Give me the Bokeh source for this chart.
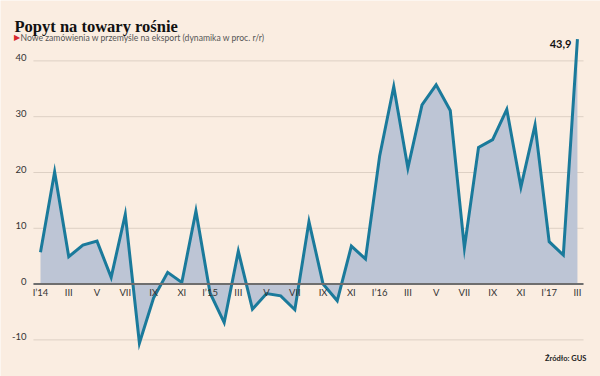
from bokeh.plotting import figure
from bokeh.models import Range1d
from bokeh.core.properties import value
from bokeh.embed import file_html
from bokeh.resources import INLINE

# --- data ---
months = list(range(39))  # I'14 .. III'17
values = [5.7, 20.1, 4.9, 7.0, 7.7, 1.2, 12.5, -10.6, -2.5, 2.1, 0.3, 13.1,
          -1.6, -6.9, 5.9, -4.5, -1.7, -2.1, -4.6, 11.2, 0.0, -3.0, 6.8, 4.5,
          22.9, 35.4, 20.8, 32.1, 35.7, 31.1, 6.5, 24.5, 25.9, 31.3, 17.4, 28.5,
          7.6, 5.2, 43.9]
xtick_pos = list(range(0, 39, 2))
xtick_labels = ["I’14", "III", "V", "VII", "IX", "XI",
                "I’15", "III", "V", "VII", "IX", "XI",
                "I’16", "III", "V", "VII", "IX", "XI",
                "I’17", "III"]
yticks = [-10, 0, 10, 20, 30, 40]
ytick_labels = [str(t) for t in yticks]
last_label = "43,9"
title = "Popyt na towary rośnie"
subtitle = "Nowe zamówienia w przemyśle na eksport (dynamika w proc. r/r)"
source = "Źródło: GUS"

BG = "#FAEDE1"
GRID = "#DDD0C4"
LINE = "#1A7A9B"
FILL = "#BDC5D5"
AXIS = "#6E6E6E"

# plot area (grid) horizontal extent, in month units
GX0, GX1 = -0.5, 38.43

p = figure(width=600, height=376,
           x_range=Range1d(-2.831, 39.632), y_range=Range1d(-16.56, 50.82),
           output_backend="svg", toolbar_location=None,
           x_axis_type=None, y_axis_type=None,
           min_border=0, background_fill_color=BG, border_fill_color=BG,
           outline_line_color=None)
p.xgrid.visible = False
p.ygrid.visible = False

# horizontal grid lines
gy = [t for t in yticks if t != 0]
p.segment(x0=[GX0] * len(gy), x1=[GX1] * len(gy), y0=gy, y1=gy,
          line_color=GRID, line_width=1)

# area + line
p.varea(x=months, y1=[0] * len(values), y2=values, fill_color=FILL, fill_alpha=1.0)
p.line(x=months, y=values, line_color=LINE, line_width=3, line_join="miter")

# zero axis line
p.segment(x0=[GX0], x1=[GX1], y0=[0], y1=[0], line_color=AXIS, line_width=2)

# y tick labels
p.text(x=[GX0] * len(yticks), y=yticks, text=ytick_labels,
       x_offset=-7, y_offset=-3, text_align="right", text_baseline="middle",
       text_font=value("Lato"), text_font_size="9.5px", text_color="#333333")

# x tick labels (sit on the zero line)
p.text(x=xtick_pos, y=[0] * len(xtick_pos), text=xtick_labels,
       y_offset=8, text_align="center", text_baseline="middle",
       text_font=value("Lato"), text_font_size="9.5px", text_color="#333333")

# titles
p.text(x=[-1.84], y=[46.09], text=[title], text_align="left",
       text_baseline="alphabetic", text_font=value("Liberation Serif"),
       text_font_style="bold", text_font_size="16.5px", text_color="#111111")
p.text(x=[-1.87], y=[44.1], text=["▶"], text_align="left",
       text_baseline="alphabetic", text_font=value("DejaVu Sans"),
       text_font_size="8px", text_color="#D7262B")
p.text(x=[-1.415], y=[44.07], text=[subtitle], text_align="left",
       text_baseline="alphabetic", text_font=value("Lato"),
       text_font_size="8.6px", text_color="#555555")

# last value label
p.text(x=[months[-1]], y=[values[-1]], text=[last_label],
       x_offset=-6, y_offset=5, text_align="right", text_baseline="middle",
       text_font=value("Lato"), text_font_style="bold", text_font_size="11px",
       text_color="#111111")

# source
p.text(x=[38.64], y=[-13.33], text=[source], text_align="right",
       text_baseline="middle", text_font=value("Lato"), text_font_style="bold",
       text_font_size="7.5px", text_color="#222222")

open("out.html", "w").write(file_html(p, INLINE))
